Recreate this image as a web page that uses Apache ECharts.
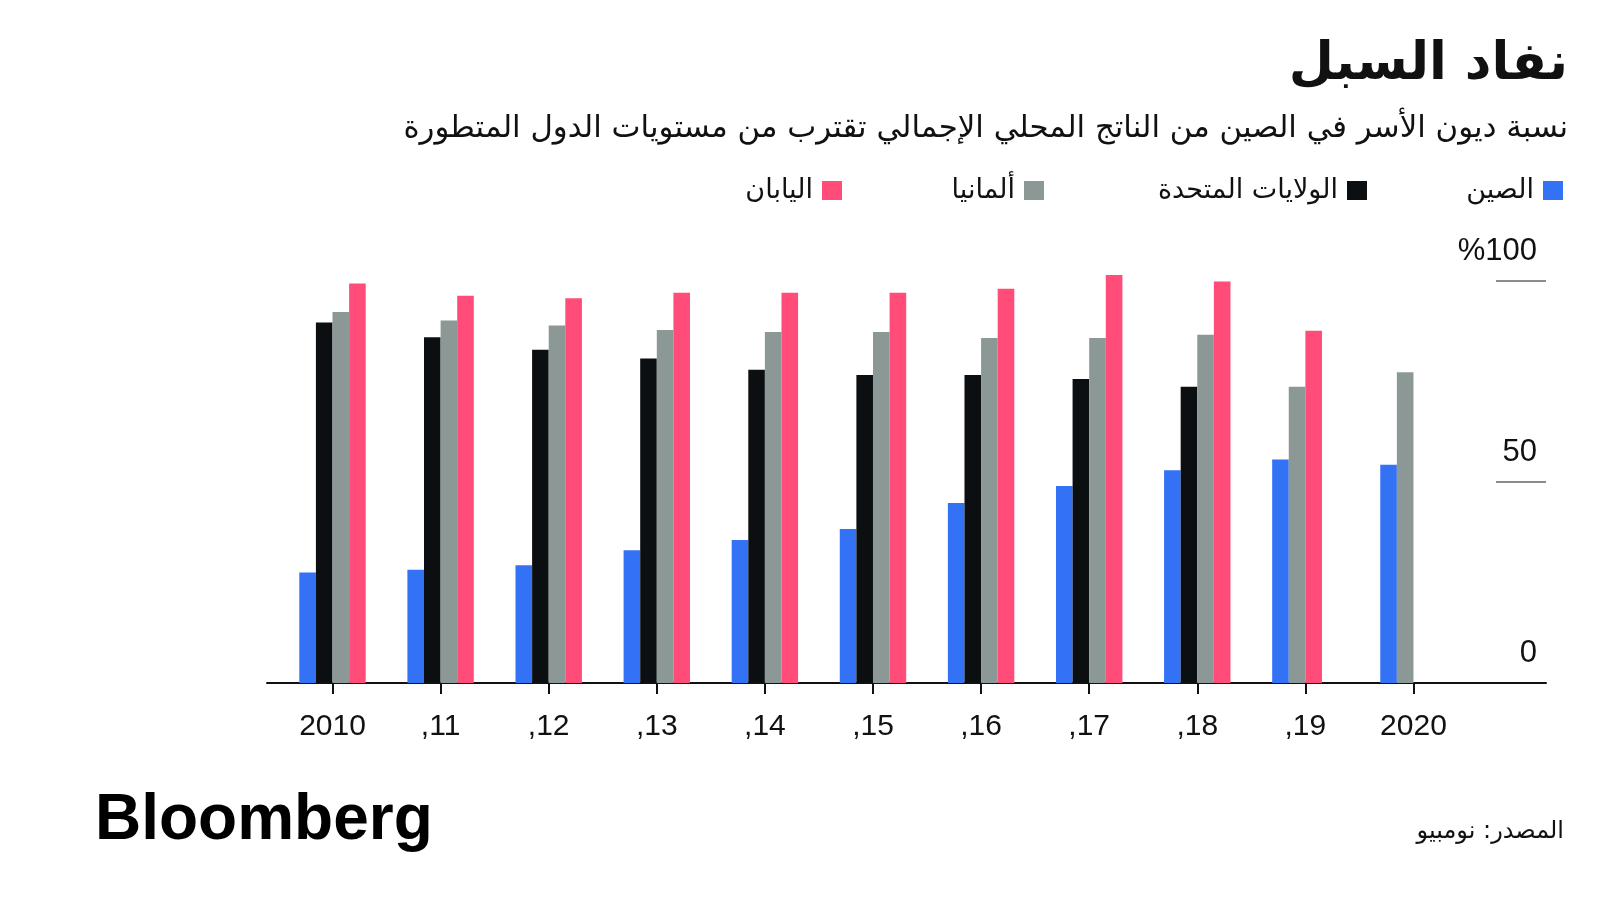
<!DOCTYPE html>
<html>
<head>
<meta charset="utf-8">
<script src="https://cdn.jsdelivr.net/npm/echarts@6/dist/echarts.min.js"></script>
<style>
html,body{margin:0;padding:0;background:#fff;}
#chart{width:1600px;height:900px;}
</style>
</head>
<body>
<div id="chart"></div>
<script>
// ---- data ----
const years = ['2010', ',11', ',12', ',13', ',14', ',15', ',16', ',17', ',18', ',19', '2020'];
const seriesNames = ['الصين', 'الولايات المتحدة', 'ألمانيا', 'اليابان'];
const china   = [27.5, 28.2, 29.3, 33.0, 35.6, 38.3, 44.8, 49.0, 52.9, 55.6, 54.3];
const us      = [89.7, 86.0, 82.9, 80.7, 77.9, 76.6, 76.6, 75.6, 73.7, null, null];
const germany = [92.3, 90.2, 88.9, 87.8, 87.3, 87.3, 85.8, 85.8, 86.6, 73.7, 77.3];
const japan   = [99.4, 96.3, 95.7, 97.1, 97.1, 97.1, 98.1, 101.5, 99.9, 87.6, null];
const yTicks = [0, 50, 100];
const titleText = 'نفاد السبل';
const subtitleText = 'نسبة ديون الأسر في الصين من الناتج المحلي الإجمالي تقترب من مستويات الدول المتطورة';
const sourceText = 'المصدر: نومبيو';

const colors = ['#3371f5', '#0c0f11', '#8b9895', '#ff4c79'];
const allSeries = [china, us, germany, japan];

const AR = "'DejaVu Sans', sans-serif";
const LAT = "'Liberation Sans', Arial, sans-serif";

const chart = echarts.init(document.getElementById('chart'), null, {renderer: 'canvas'});

const BAR_FRAC = 0.1536;

function makeRender(sIdx) {
  return function (params, api) {
    const i = api.value(0);
    const v = api.value(1);
    let slot = 0;
    for (let k = 0; k < sIdx; k++) {
      if (allSeries[k][i] != null) slot++;
    }
    const band = api.size([1, 0])[0];
    const bw = band * BAR_FRAC;
    const c = api.coord([i, v]);
    const c0 = api.coord([i, 0]);
    const x = c0[0] - 2 * bw + slot * bw;
    return {
      type: 'rect',
      shape: {x: x, y: c[1], width: bw, height: c0[1] - c[1]},
      style: {fill: colors[sIdx]}
    };
  };
}

const customSeries = allSeries.map((arr, s) => ({
  type: 'custom',
  name: seriesNames[s],
  xAxisIndex: 0,
  yAxisIndex: 0,
  clip: false,
  itemStyle: {color: colors[s]},
  renderItem: makeRender(s),
  encode: {x: 0, y: 1},
  data: arr.map((v, i) => v == null ? null : [i, v]).filter(d => d)
}));

const legendRights = [32, 228, 551, 753];
const legends = seriesNames.map((n, s) => ({
  data: [n],
  right: legendRights[s],
  top: 172,
  align: 'right',
  orient: 'horizontal',
  itemWidth: 20,
  itemHeight: 19,
  icon: 'rect',
  selectedMode: false,
  textStyle: {fontFamily: AR, fontSize: 27, color: '#111', padding: [0, 4, 0, 0]}
}));

const option = {
  backgroundColor: '#ffffff',
  animation: false,
  title: [
    {text: titleText, right: 27, top: 34,
     textStyle: {fontFamily: AR, fontSize: 52, fontWeight: 'bold', color: '#111'}},
    {text: subtitleText, right: 27, top: 108,
     textStyle: {fontFamily: AR, fontSize: 30.8, fontWeight: 'normal', color: '#111'}},
    {text: 'Bloomberg', left: 90, top: 784,
     textStyle: {fontFamily: LAT, fontSize: 64, fontWeight: 'bold', color: '#000'}},
    {text: sourceText, right: 31, top: 815,
     textStyle: {fontFamily: AR, fontSize: 24, fontWeight: 'normal', color: '#111'}}
  ],
  legend: legends,
  grid: [
    {left: 267, right: 54, top: 281, bottom: 217},
    {left: 1496, right: 54, top: 281, bottom: 217}
  ],
  xAxis: [
    {
      type: 'value', gridIndex: 0,
      min: -0.606, max: 11.226,
      axisLine: {show: true, onZero: false, lineStyle: {color: '#111', width: 2}},
      splitLine: {show: false},
      axisTick: {show: true, length: 11, lineStyle: {color: '#111', width: 2},
                 customValues: years.map((_, i) => i)},
      axisLabel: {show: true, margin: 29, fontFamily: LAT, fontSize: 30, color: '#111',
                  customValues: years.map((_, i) => i),
                  formatter: v => years[Math.round(v)]}
    },
    {
      type: 'value', gridIndex: 1, min: 0, max: 1, show: false
    }
  ],
  yAxis: [
    {
      type: 'value', gridIndex: 0, min: 0, max: 100, interval: 50,
      show: false
    },
    {
      type: 'value', gridIndex: 1, position: 'right', min: 0, max: 100, interval: 50,
      axisLine: {show: false},
      axisTick: {show: false},
      splitLine: {show: true, lineStyle: {color: '#666', width: 1.5}},
      axisLabel: {
        inside: true, margin: 9, fontFamily: LAT, fontSize: 31, color: '#111',
        verticalAlign: 'bottom', lineHeight: 60,
        showMinLabel: true, showMaxLabel: true,
        customValues: yTicks,
        formatter: v => v === 100 ? '%100' : String(v)
      }
    }
  ],
  series: customSeries
};

chart.setOption(option);
</script>
</body>
</html>
